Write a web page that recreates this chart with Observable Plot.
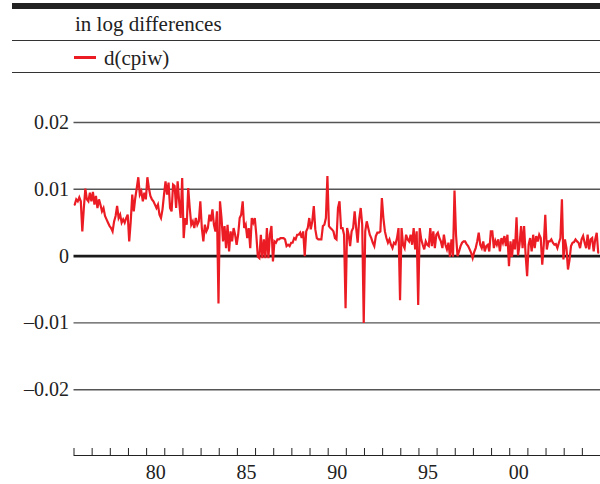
<!DOCTYPE html>
<html>
<head>
<meta charset="utf-8">
<script src="https://cdn.jsdelivr.net/npm/d3@7"></script>
<script src="https://cdn.jsdelivr.net/npm/@observablehq/plot@0.6"></script>
<style>
  html, body { margin: 0; padding: 0; background: #fff; }
  #wrap { width: 600px; height: 484px; position: relative; overflow: hidden; font-family: "Liberation Serif", "Times New Roman", serif; color: #222; }
  #head { position: relative; width: 600px; height: 80px; }
  .bar { position: absolute; left: 12px; right: 0; top: 3px; height: 6px; background: #222; }
  .rule { position: absolute; left: 12px; right: 0; height: 1.5px; background: #333; }
  .txt { position: absolute; font-size: 21px; line-height: 21px; white-space: nowrap; }
  .swatch { position: absolute; left: 74px; width: 22px; height: 2.5px; background: #ec1c24; }
</style>
</head>
<body>
<div id="wrap">
  <div id="head">
    <div class="bar"></div>
    <div class="txt" id="subtitle" style="left:75px; top:14px;"></div>
    <div class="rule" style="top:39.5px;"></div>
    <div class="swatch" style="top:56px;"></div>
    <div class="txt" id="legend" style="left:104px; top:48px;"></div>
    <div class="rule" style="top:71.5px;"></div>
  </div>
  <div id="chart"></div>
</div>
<script>
// ---- data: monthly log differences of CPI-W, Jan 1976 onward ----
const subtitle = "in log differences";
const seriesName = "d(cpiw)";
const startYear = 1976;
const dcpiw = [
  // 1976
  0.0077, 0.0085, 0.0082, 0.0088, 0.0082, 0.0037, 0.0072, 0.0101, 0.0085, 0.0082, 0.0095, 0.0082,
  // 1977
  0.0096, 0.0077, 0.0090, 0.0072, 0.0085, 0.0077, 0.0067, 0.0072, 0.0060, 0.0055, 0.0050, 0.0045,
  // 1978
  0.0042, 0.0037, 0.0052, 0.0060, 0.0075, 0.0057, 0.0062, 0.0050, 0.0055, 0.0050, 0.0057, 0.0062,
  // 1979
  0.0022, 0.0052, 0.0092, 0.0067, 0.0087, 0.0102, 0.0118, 0.0092, 0.0097, 0.0082, 0.0095, 0.0085,
  // 1980
  0.0118, 0.0102, 0.0090, 0.0085, 0.0082, 0.0077, 0.0072, 0.0077, 0.0062, 0.0057, 0.0070, 0.0092,
  // 1981
  0.0112, 0.0092, 0.0110, 0.0072, 0.0067, 0.0107, 0.0105, 0.0072, 0.0112, 0.0082, 0.0057, 0.0117,
  // 1982
  0.0027, 0.0057, 0.0047, 0.0102, 0.0072, 0.0047, 0.0052, 0.0042, 0.0057, 0.0047, 0.0052, 0.0082,
  // 1983
  0.0042, 0.0022, 0.0047, 0.0037, 0.0042, 0.0062, 0.0052, 0.0070, 0.0047, 0.0037, 0.0067, -0.0071,
  // 1984
  0.0082, 0.0057, 0.0022, 0.0045, 0.0012, 0.0047, 0.0007, 0.0037, 0.0022, 0.0042, 0.0032, 0.0017,
  // 1985
  0.0032, 0.0057, 0.0062, 0.0082, 0.0042, 0.0047, 0.0027, 0.0042, 0.0012, 0.0057, 0.0050, 0.0057,
  // 1986
  0.0032, -0.0001, -0.0003, 0.0032, -0.0003, 0.0025, -0.0003, 0.0042, -0.0003, 0.0032, 0.0045, -0.0008,
  // 1987
  0.0022, 0.0020, 0.0025, 0.0025, 0.0027, 0.0027, 0.0027, 0.0025, 0.0015, 0.0017, 0.0015, 0.0020,
  // 1988
  0.0020, 0.0027, 0.0025, 0.0032, 0.0032, 0.0035, 0.0027, 0.0037, 0.0000, 0.0037, 0.0042, 0.0057,
  // 1989
  0.0040, 0.0052, 0.0075, 0.0040, 0.0027, 0.0025, 0.0025, 0.0025, 0.0045, 0.0047, 0.0057, 0.0120,
  // 1990
  0.0045, 0.0042, 0.0040, 0.0037, 0.0027, 0.0025, 0.0072, 0.0082, 0.0042, 0.0042, 0.0032, -0.0078,
  // 1991
  0.0042, 0.0032, 0.0015, 0.0037, 0.0042, 0.0067, 0.0042, 0.0020, 0.0055, 0.0072, 0.0047, -0.0100,
  // 1992
  0.0037, 0.0052, 0.0042, 0.0032, 0.0027, 0.0020, 0.0015, 0.0030, 0.0035, 0.0035, 0.0037, 0.0087,
  // 1993
  0.0057, 0.0037, 0.0027, 0.0020, 0.0025, 0.0017, 0.0012, 0.0020, 0.0018, 0.0027, 0.0042, -0.0066,
  // 1994
  0.0042, 0.0017, 0.0012, 0.0032, 0.0025, 0.0022, 0.0032, 0.0017, 0.0042, 0.0010, 0.0037, -0.0073,
  // 1995
  0.0042, 0.0025, 0.0017, 0.0010, 0.0022, 0.0017, 0.0015, 0.0042, 0.0015, 0.0037, 0.0012, 0.0032,
  // 1996
  0.0035, 0.0027, 0.0022, 0.0012, 0.0032, 0.0017, 0.0010, 0.0020, -0.0001, 0.0025, -0.0001, 0.0098,
  // 1997
  0.0032, 0.0000, 0.0007, 0.0015, 0.0020, 0.0022, 0.0022, 0.0018, 0.0015, 0.0010, 0.0005, -0.0003,
  // 1998
  0.0006, 0.0012, 0.0022, 0.0035, 0.0017, 0.0012, 0.0022, 0.0007, 0.0015, 0.0017, 0.0007, 0.0037,
  // 1999
  0.0037, 0.0012, 0.0023, 0.0017, 0.0025, 0.0007, 0.0027, 0.0020, 0.0030, 0.0015, 0.0032, -0.0015,
  // 2000
  0.0022, -0.0001, 0.0025, 0.0010, 0.0058, 0.0001, 0.0017, 0.0045, 0.0012, 0.0045, 0.0002, -0.0030,
  // 2001
  0.0017, 0.0027, 0.0007, 0.0032, 0.0012, 0.0030, 0.0022, 0.0032, 0.0027, -0.0013, 0.0017, 0.0062,
  // 2002
  0.0010, 0.0022, 0.0022, 0.0025, 0.0020, 0.0017, 0.0018, 0.0012, 0.0020, 0.0027, 0.0085, -0.0005,
  // 2003
  0.0025, 0.0012, -0.0020, -0.0006, 0.0015, 0.0020, 0.0021, 0.0025, 0.0022, 0.0020, 0.0012, 0.0025,
  // 2004
  0.0030, 0.0020, 0.0012, 0.0032, 0.0010, 0.0025, 0.0027, 0.0007, 0.0025, 0.0035, 0.0005
];

const yTicks = [0.02, 0.01, 0, -0.01, -0.02];
const yTickLabels = ["0.02", "0.01", "0", "\u20130.01", "\u20130.02"];
const xDomain = [1976, 2005];
const yDomain = [-0.02985, 0.02];
const tickYears = d3.range(1976, 2006);
const labelYears = [1980, 1985, 1990, 1995, 2000];
const labelTexts = ["80", "85", "90", "95", "00"];

// table for the line mark
const rows = dcpiw.map((v, i) => ({ t: startYear + (i + 0.5) / 12, v }));

document.getElementById("subtitle").textContent = subtitle;
document.getElementById("legend").textContent = seriesName;

const W = 600, H = 404, mT = 42, mB = 29;
// tick length of 7px expressed in y-data units for this frame
const tickLen = (yDomain[1] - yDomain[0]) * 7 / (H - mT - mB);

const red = "#ec1c24";
const chart = Plot.plot({
  width: W,
  height: H,
  marginLeft: 73.5,
  marginRight: 0,
  marginTop: mT,
  marginBottom: mB,
  x: { domain: xDomain, axis: null },
  y: { domain: yDomain, axis: null },
  style: { fontFamily: "'Liberation Serif', 'Times New Roman', serif", fontSize: "20px", background: "#fff", color: "#222", overflow: "visible" },
  marks: [
    Plot.ruleY(yTicks.filter(d => d !== 0), { stroke: "#555", strokeWidth: 1.4 }),
    Plot.ruleY([0], { stroke: "#1a1a1a", strokeWidth: 2.8 }),
    Plot.text(yTicks, { x: xDomain[0], y: d => d, text: (d, i) => yTickLabels[i], textAnchor: "end", dx: -5, fill: "#222", fontSize: 20 }),
    Plot.line(rows, { x: "t", y: "v", stroke: red, strokeWidth: 2.2, strokeLinejoin: "miter", strokeMiterlimit: 4 }),
    Plot.ruleY([yDomain[0]], { stroke: "#222", strokeWidth: 1 }),
    Plot.ruleX(tickYears, { x: d => d, y1: yDomain[0], y2: yDomain[0] + tickLen, stroke: "#222", strokeWidth: 1 }),
    Plot.text(labelYears, { x: d => d + 0.5, y: yDomain[0], dy: 17, text: (d, i) => labelTexts[i], fill: "#222", fontSize: 20 })
  ]
});
document.getElementById("chart").appendChild(chart);
</script>
</body>
</html>
